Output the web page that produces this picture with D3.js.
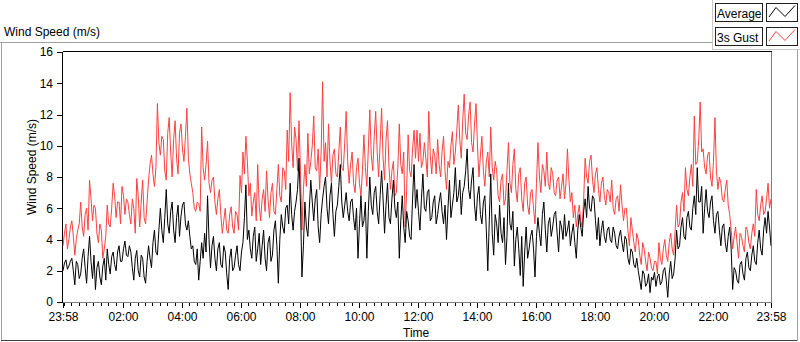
<!DOCTYPE html>
<html>
<head>
<meta charset="utf-8">
<script src="https://cdn.jsdelivr.net/npm/d3@7"></script>
<style>
  html, body { margin: 0; padding: 0; background: #fff; }
  svg { display: block; }
  text { font-family: "Liberation Sans", Arial, sans-serif; font-size: 12px; fill: #000; }
</style>
</head>
<body>
<svg id="chart" width="800" height="342"></svg>
<script>
// ---- data ----
const startTime = "2000-01-01 23:58";
const endTime = "2000-01-02 23:58";
const sampleStepMinutes = 3;

const gust = [
  3.6,4.4,5.0,3.4,4.0,4.8,5.2,4.2,3.0,4.0,
  4.6,5.0,6.4,4.8,4.2,5.6,6.0,4.6,7.8,6.6,
  5.2,6.2,6.0,4.4,3.8,5.0,4.6,2.8,3.4,4.2,
  6.2,5.0,4.8,6.0,7.6,6.8,5.4,6.4,6.4,5.0,
  7.4,6.8,5.6,6.6,6.4,5.6,5.0,6.6,6.0,4.4,
  7.9,6.8,4.8,6.4,7.8,5.4,5.0,6.4,7.8,8.8,
  9.4,8.2,7.4,8.6,12.7,10.2,9.4,10.6,10.4,8.4,
  7.8,10.8,11.8,9.6,8.0,10.4,11.6,9.2,8.2,10.8,
  11.4,9.8,9.0,10.6,12.4,9.2,8.2,7.6,7.0,6.0,
  5.8,6.4,6.3,5.8,11.2,8.6,7.8,8.8,10.3,7.6,
  7.0,7.8,8.0,6.4,5.6,6.6,7.2,5.6,4.4,5.2,
  6.0,4.6,4.4,5.6,6.1,4.8,4.4,5.8,5.6,4.6,
  8.1,7.0,9.6,8.2,10.6,9.0,6.8,7.6,5.5,6.4,
  7.0,5.2,8.8,6.2,5.2,6.6,7.2,5.8,8.4,6.6,
  5.4,7.0,7.6,5.8,5.6,7.2,8.8,6.8,6.4,8.6,
  8.4,7.2,11.0,9.0,13.4,10.2,8.6,11.2,10.4,8.4,
  11.6,8.4,4.6,7.2,8.8,7.4,10.8,8.2,9.0,10.0,
  11.9,8.6,8.4,9.8,7.2,9.6,14.1,9.0,10.2,8.0,
  11.4,9.0,7.6,9.4,9.8,8.2,8.0,9.6,11.2,8.6,
  8.4,10.2,12.2,9.0,7.6,8.8,9.6,7.6,7.0,8.6,
  9.2,7.6,6.8,8.4,10.7,8.6,7.4,9.8,12.3,9.4,
  8.4,10.6,12.2,9.6,8.0,10.2,12.4,9.2,7.8,10.4,
  11.6,8.6,7.2,8.4,9.0,6.8,7.0,8.6,11.4,8.8,
  8.2,9.6,4.8,7.2,10.7,8.4,8.0,9.8,11.0,9.2,
  11.0,9.0,10.8,8.6,9.0,10.2,9.2,8.0,12.2,9.4,
  8.2,9.8,9.4,8.2,10.4,8.8,8.0,9.6,10.6,8.4,
  7.2,9.0,8.6,10.0,10.9,8.8,9.6,11.0,12.6,10.4,
  9.2,11.6,13.3,10.8,10.4,12.0,12.8,10.2,9.6,11.4,
  12.7,10.0,8.0,9.4,10.6,8.4,7.4,9.0,9.6,8.0,
  11.2,8.6,7.8,9.0,8.4,6.8,6.4,7.8,8.2,6.2,
  6.6,8.4,10.2,7.6,7.0,8.8,9.8,7.2,6.4,8.2,
  8.6,6.6,5.8,7.6,8.0,6.2,5.6,7.0,7.2,6.0,
  5.0,7.6,10.2,8.0,7.0,8.8,8.4,7.4,9.6,7.6,
  7.2,8.6,8.2,7.0,6.8,7.8,8.0,6.6,7.4,8.2,
  6.6,7.6,9.8,7.8,6.4,7.0,5.4,6.2,4.8,5.6,
  6.2,5.2,4.8,6.6,9.2,8.0,7.6,9.0,9.4,7.8,
  7.0,8.2,8.6,7.2,6.4,7.6,8.0,6.8,6.2,7.2,
  7.0,6.4,7.8,6.0,5.6,6.6,6.8,5.8,7.5,6.2,
  5.2,6.0,6.0,4.6,3.6,5.4,4.6,3.8,3.2,4.4,
  4.0,3.0,2.4,3.8,3.4,2.6,2.0,3.2,2.8,2.2,
  2.0,2.6,2.6,1.8,3.8,2.8,2.4,3.4,4.0,3.0,
  2.6,3.8,4.4,3.4,3.0,4.6,6.2,4.8,5.0,6.4,
  7.0,5.8,8.6,7.2,6.8,8.0,8.8,7.4,11.9,8.8,
  9.0,10.4,12.8,9.6,9.8,8.6,8.2,9.4,9.6,8.0,
  7.4,9.0,11.8,8.4,7.2,8.0,7.6,6.6,6.4,7.2,
  7.8,6.2,5.6,4.6,3.4,4.2,4.8,3.8,2.8,4.4,
  4.2,3.6,3.2,4.8,4.6,3.8,3.4,4.4,5.0,4.2,
  7.2,5.6,5.2,6.2,6.8,5.6,5.8,6.6,7.6,6.0,
  6.6
];

const average = [
  2.0,2.5,2.7,2.1,2.3,2.6,2.8,2.0,1.1,2.6,
  2.4,1.5,1.8,2.8,3.4,2.2,1.2,2.9,4.2,2.6,
  1.5,3.0,0.8,2.2,2.6,1.6,1.1,2.3,2.8,1.4,
  3.4,2.4,1.8,2.9,3.2,2.4,2.0,3.2,3.6,2.6,
  2.6,3.4,3.9,3.0,2.9,3.6,3.2,2.2,1.4,2.8,
  3.3,2.0,1.6,3.0,2.8,1.6,1.2,2.6,3.6,2.8,
  2.2,3.8,4.6,3.2,3.0,4.6,6.0,4.6,3.8,5.4,
  7.2,5.0,4.4,5.8,6.4,4.6,3.8,5.4,6.2,4.2,
  5.5,6.2,6.4,5.0,4.6,5.2,4.2,3.4,3.6,2.6,
  2.4,3.4,1.4,2.6,3.8,2.8,4.4,3.2,6.8,4.0,
  2.2,3.6,4.2,2.8,2.0,3.4,3.8,2.4,2.2,3.6,
  3.2,1.8,0.8,2.8,3.4,2.0,2.2,3.0,3.6,2.4,
  2.0,3.2,3.8,5.4,7.5,4.0,4.6,3.4,2.8,4.2,
  4.8,2.6,3.4,4.4,2.4,3.6,4.6,2.8,2.0,3.8,
  4.2,2.6,3.0,4.6,5.2,3.6,1.2,4.0,5.6,4.8,
  4.4,6.0,6.2,5.0,7.6,5.6,4.6,5.8,6.4,7.2,
  9.2,6.2,1.6,3.6,6.4,4.8,4.2,6.0,7.8,6.4,
  5.2,6.6,7.2,4.8,3.8,5.6,6.6,7.4,8.0,6.0,
  5.0,6.8,7.6,5.6,4.2,5.8,6.2,7.4,8.8,6.4,
  5.4,6.2,7.0,5.8,5.2,6.4,6.6,5.4,4.6,6.0,
  2.8,5.0,6.8,4.8,5.2,6.4,2.8,5.8,8.0,6.2,
  5.6,7.0,7.4,5.8,5.0,6.8,8.4,6.6,4.4,6.2,
  7.6,5.4,5.0,6.6,7.8,6.0,5.4,6.4,2.8,5.2,
  6.8,4.8,3.8,5.8,5.2,4.2,4.0,6.6,8.8,6.0,
  7.2,5.8,4.6,6.6,8.2,6.0,5.8,7.0,7.2,5.2,
  5.4,6.4,6.8,5.0,5.6,6.4,7.0,5.8,5.0,6.2,
  4.0,6.0,7.8,5.4,6.2,7.0,8.6,6.4,6.8,7.8,
  5.6,7.0,7.4,8.4,9.8,7.2,6.6,7.8,8.6,6.2,
  5.2,6.8,7.4,5.6,5.0,6.4,6.8,4.6,2.0,5.2,
  8.2,4.4,3.0,5.6,5.0,3.8,6.2,4.4,3.8,5.4,
  2.4,4.2,7.6,5.0,4.6,5.8,2.3,4.0,4.8,3.4,
  1.7,4.2,1.0,3.2,4.8,2.8,3.4,4.2,4.6,3.4,
  1.6,4.2,5.4,4.4,3.6,5.6,6.4,4.6,3.2,5.0,
  5.4,4.2,4.8,5.6,5.8,4.4,3.2,5.2,4.8,4.0,
  5.6,4.2,4.6,5.2,3.6,4.4,5.0,3.8,2.8,4.6,
  5.6,4.8,4.2,5.8,6.6,5.4,7.4,6.0,5.8,6.8,
  6.6,5.2,4.0,5.4,3.6,4.6,5.2,4.2,3.8,4.6,
  4.8,4.0,3.8,4.8,4.4,3.6,3.4,4.2,4.6,3.8,
  3.2,4.2,4.0,2.8,2.4,3.4,3.2,2.4,2.2,2.8,
  2.0,1.4,0.8,2.0,1.8,1.0,1.2,1.8,0.6,1.6,
  1.4,1.9,1.0,1.6,1.8,1.1,1.3,2.0,2.2,1.4,
  0.3,1.8,2.6,1.5,1.8,2.8,4.6,3.4,3.6,4.8,
  5.4,4.2,4.0,5.4,5.8,4.8,4.6,6.0,6.8,5.6,
  8.6,6.4,6.4,7.4,4.4,6.0,7.2,5.8,5.4,6.4,
  6.8,5.2,4.4,5.6,5.8,4.6,3.6,4.8,5.0,3.8,
  3.2,4.2,4.8,3.4,0.8,2.2,2.0,1.4,1.2,2.4,
  2.6,1.8,1.4,2.8,3.2,2.2,2.0,3.0,3.6,2.6,
  2.4,3.8,4.6,3.4,3.0,4.6,5.4,4.4,5.8,4.8,
  3.6
];

const xTickLabels = ["23:58","02:00","04:00","06:00","08:00","10:00","12:00",
                     "14:00","16:00","18:00","20:00","22:00","23:58"];
const yTickValues = [0,2,4,6,8,10,12,14,16];
const seriesNames = ["Average","3s Gust"];
const seriesColors = ["#000000","#ff4040"];

// ---- chart ----
const svg = d3.select("#chart");
const parse = d3.timeParse("%Y-%m-%d %H:%M");
const t0 = parse(startTime), t1 = parse(endTime);

const plot = {left: 62.5, top: 51.5, right: 771.5, bottom: 302.5};
const x = d3.scaleTime().domain([t0, t1]).range([63, 771]);
const y = d3.scaleLinear().domain([0, 16]).range([302, 52]);

// outer frame
svg.append("rect").attr("x",0).attr("y",0).attr("width",800).attr("height",342).attr("fill","#fff");
svg.append("text").attr("x",4).attr("y",36).text("Wind Speed (m/s)");
const g = svg.append("g").attr("shape-rendering","crispEdges");
g.append("line").attr("x1",0).attr("y1",42.5).attr("x2",712).attr("y2",42.5).attr("stroke","#a0a0a0");
g.append("line").attr("x1",1.5).attr("y1",42).attr("x2",1.5).attr("y2",341).attr("stroke","#a0a0a0");
g.append("line").attr("x1",1).attr("y1",340.5).attr("x2",798).attr("y2",340.5).attr("stroke","#404040");
g.append("line").attr("x1",797.5).attr("y1",49).attr("x2",797.5).attr("y2",341).attr("stroke","#a0a0a0");
// legend frame
g.append("line").attr("x1",712.5).attr("y1",0).attr("x2",712.5).attr("y2",49).attr("stroke","#c8c8c8");
g.append("line").attr("x1",712).attr("y1",49.5).attr("x2",800).attr("y2",49.5).attr("stroke","#c8c8c8");

// clip
svg.append("clipPath").attr("id","clip").append("rect")
  .attr("x",plot.left).attr("y",plot.top).attr("width",plot.right-plot.left).attr("height",plot.bottom-plot.top);

// series
const timeAt = i => d3.timeMinute.offset(t0, i * sampleStepMinutes);
const line = d3.line().x((d,i) => x(timeAt(i))).y(d => y(d));
const lines = svg.append("g").attr("clip-path","url(#clip)");
lines.append("path").datum(gust).attr("d", line).attr("fill","none")
  .attr("stroke", seriesColors[1]).attr("stroke-width",1);
lines.append("path").datum(average).attr("d", line).attr("fill","none")
  .attr("stroke", seriesColors[0]).attr("stroke-width",1);

// plot border
g.append("line").attr("x1",plot.left).attr("y1",plot.top).attr("x2",plot.right).attr("y2",plot.top).attr("stroke","#000");
g.append("line").attr("x1",plot.left).attr("y1",plot.top).attr("x2",plot.left).attr("y2",plot.bottom).attr("stroke","#000");
g.append("line").attr("x1",plot.right).attr("y1",plot.top).attr("x2",plot.right).attr("y2",plot.bottom).attr("stroke","#808080");
g.append("line").attr("x1",plot.left).attr("y1",plot.bottom).attr("x2",plot.right+0.5).attr("y2",plot.bottom).attr("stroke","#808080");

// y axis
const yAxis = svg.append("g").attr("transform","translate(62,0)")
  .call(d3.axisLeft(y).tickValues(yTickValues).tickSize(5).tickPadding(4).tickFormat(d3.format("d")));
yAxis.select(".domain").remove();
yAxis.selectAll("line").attr("stroke","#000").attr("shape-rendering","crispEdges");
yAxis.selectAll("text").attr("font-family",null).attr("font-size",null).attr("fill","#000");

// x axis
const majorTimes = xTickLabels.map((lab,i) => i === 0 ? t0 : (i === xTickLabels.length-1 ? t1 : parse("2000-01-02 " + lab)));
const minorTimes = d3.timeMinute.every(15).range(t0, t1).filter(t => !majorTimes.some(m => +m === +t));
const xMinor = svg.append("g").attr("transform","translate(0,303)")
  .call(d3.axisBottom(x).tickValues(minorTimes).tickSize(3).tickFormat(""));
xMinor.select(".domain").remove();
xMinor.selectAll("line").attr("stroke","#000").attr("shape-rendering","crispEdges");
const xAxis = svg.append("g").attr("transform","translate(0,303)")
  .call(d3.axisBottom(x).tickValues(majorTimes).tickSize(5).tickPadding(4).tickFormat((d,i) => xTickLabels[i]));
xAxis.select(".domain").remove();
xAxis.selectAll("line").attr("stroke","#000").attr("stroke-width",1.5).attr("shape-rendering","crispEdges");
xAxis.selectAll("text").attr("font-family",null).attr("font-size",null).attr("fill","#000");

// axis titles
svg.append("text").attr("transform","translate(36,167) rotate(-90)").attr("text-anchor","middle").text("Wind Speed (m/s)");
svg.append("text").attr("x",403).attr("y",337).text("Time");

// legend
const legend = svg.append("g");
seriesNames.forEach((name, i) => {
  const top = 3.5 + i * 24;
  legend.append("rect").attr("x",715.5).attr("y",top).attr("width",47).attr("height",18)
    .attr("fill","#fff").attr("stroke","#202020").attr("shape-rendering","crispEdges");
  legend.append("text").attr("x",717).attr("y",top+14).text(name);
  legend.append("rect").attr("x",766.5).attr("y",top).attr("width",31).attr("height",18)
    .attr("fill","#fff").attr("stroke","#202020").attr("shape-rendering","crispEdges");
  const zig = [[769,top+13.5],[776,top+4],[785,top+13],[795,top+2]];
  legend.append("path").attr("d", d3.line()(zig)).attr("fill","none")
    .attr("stroke", seriesColors[i]).attr("stroke-width",1);
});
</script>
</body>
</html>
